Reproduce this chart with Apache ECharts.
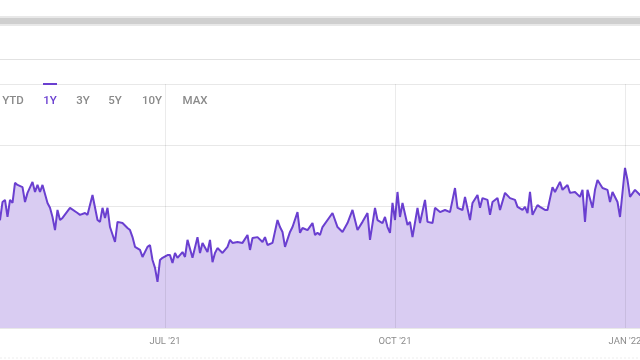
<!DOCTYPE html>
<html>
<head>
<meta charset="utf-8">
<script src="https://cdn.jsdelivr.net/npm/echarts@6/dist/echarts.min.js"></script>
<style>
html,body{margin:0;padding:0;background:#fff;}
#chart{width:640px;height:360px;}
</style>
</head>
<body>
<div id="chart"></div>
<script>
const dates = [
'2021-04-24','2021-04-26','2021-04-27','2021-04-28','2021-04-29','2021-04-30','2021-05-01','2021-05-02','2021-05-03','2021-05-05','2021-05-06',
'2021-05-07','2021-05-09','2021-05-10','2021-05-11','2021-05-12','2021-05-13','2021-05-15','2021-05-16','2021-05-17','2021-05-18',
'2021-05-19','2021-05-20','2021-05-21','2021-05-24','2021-05-27','2021-05-28','2021-05-30','2021-05-31','2021-06-02','2021-06-04',
'2021-06-05','2021-06-06','2021-06-07','2021-06-08','2021-06-09','2021-06-11','2021-06-12','2021-06-14','2021-06-16','2021-06-17',
'2021-06-18','2021-06-19','2021-06-21','2021-06-22','2021-06-24','2021-06-25','2021-06-26','2021-06-27','2021-06-28','2021-06-29',
'2021-06-30','2021-07-02','2021-07-03','2021-07-04','2021-07-05','2021-07-06','2021-07-08','2021-07-09','2021-07-10','2021-07-12',
'2021-07-14','2021-07-15','2021-07-16','2021-07-18','2021-07-19','2021-07-20','2021-07-21','2021-07-22','2021-07-24','2021-07-26',
'2021-07-27','2021-07-28','2021-07-30','2021-08-01','2021-08-03','2021-08-04','2021-08-05','2021-08-07','2021-08-09','2021-08-10',
'2021-08-11','2021-08-13','2021-08-15','2021-08-16','2021-08-17','2021-08-18','2021-08-20','2021-08-21','2021-08-23','2021-08-24',
'2021-08-25','2021-08-27','2021-08-29','2021-08-30','2021-08-31','2021-09-01','2021-09-02','2021-09-06','2021-09-08','2021-09-10',
'2021-09-12','2021-09-14','2021-09-16','2021-09-18','2021-09-20','2021-09-21','2021-09-23','2021-09-24','2021-09-26','2021-09-27',
'2021-09-28','2021-09-29','2021-09-30','2021-10-01','2021-10-02','2021-10-03','2021-10-04','2021-10-06','2021-10-07','2021-10-08',
'2021-10-10','2021-10-11','2021-10-13','2021-10-14','2021-10-16','2021-10-17','2021-10-19','2021-10-21','2021-10-23','2021-10-25',
'2021-10-26','2021-10-28','2021-10-29','2021-10-31','2021-11-01','2021-11-03','2021-11-04','2021-11-05','2021-11-07','2021-11-08',
'2021-11-09','2021-11-11','2021-11-12','2021-11-14','2021-11-16','2021-11-18','2021-11-19','2021-11-21','2021-11-22','2021-11-23',
'2021-11-24','2021-11-25','2021-11-27','2021-11-28','2021-11-30','2021-12-01','2021-12-03','2021-12-04','2021-12-06','2021-12-07',
'2021-12-09','2021-12-10','2021-12-12','2021-12-14','2021-12-15','2021-12-16','2021-12-17','2021-12-19','2021-12-20','2021-12-21',
'2021-12-23','2021-12-25','2021-12-26','2021-12-27','2021-12-29','2021-12-30','2022-01-01','2022-01-02','2022-01-03','2022-01-05',
'2022-01-07','2022-01-09'
];
const prices = [
138.0,135.4,141.3,142.0,136.4,142.0,141.0,147.6,146.9,146.2,141.3,
144.3,147.9,144.6,146.9,144.6,146.9,141.0,139.4,136.4,132.1,
138.7,135.4,136.1,139.4,137.7,137.1,137.7,137.1,143.6,135.4,
134.8,139.4,136.1,139.4,133.1,128.2,134.8,134.4,132.8,132.1,
129.8,126.6,125.6,123.3,126.6,127.2,122.3,119.7,115.1,122.3,
123.0,123.9,123.9,121.3,124.6,123.0,124.9,123.3,128.9,123.0,
129.8,124.6,127.9,124.9,128.9,121.6,124.6,126.2,124.6,126.6,
128.9,127.9,128.2,127.9,130.5,125.6,129.5,129.8,128.2,129.8,
127.2,127.9,135.4,133.1,131.5,126.6,131.5,133.1,138.0,131.2,
132.8,132.1,134.4,130.5,131.2,130.5,133.1,137.7,133.1,131.5,
134.4,138.7,132.1,134.8,137.7,128.9,139.4,135.4,134.4,136.4,
133.1,131.2,141.0,135.4,144.6,136.4,141.0,133.8,134.8,129.8,
139.4,134.4,142.0,134.8,134.4,139.4,138.0,138.7,138.0,145.9,
139.4,138.7,143.0,135.4,141.0,143.6,139.4,142.6,142.0,137.1,
141.3,142.6,138.7,144.3,142.6,142.0,139.7,138.7,139.7,137.7,
144.6,137.1,140.3,139.7,138.7,138.7,146.2,144.6,147.9,145.3,
146.9,144.3,144.6,143.0,145.3,134.8,145.3,139.4,145.3,148.5,
145.9,145.3,141.3,144.6,141.3,136.4,152.5,148.5,143.0,145.3,
143.6,143.0
];
const tickDates = ['2021-07-01','2021-10-01','2022-01-01'];
const tickLabels = ["JUL '21","OCT '21","JAN '22"];
const periodLabels = ['YTD','1Y','3Y','5Y','10Y','MAX'];
const periodCenters = [13,50,83,115,152,195];
const activePeriod = '1Y';

const chart = echarts.init(document.getElementById('chart'), null, {renderer:'canvas'});

const buttonGraphics = periodLabels.map((p,i)=>({
  type:'text', x: periodCenters[i], y: 95, z: 10,
  style:{text:p, fill: p===activePeriod ? '#6a3fd0' : '#8a8a8a', font:'500 11.5px Roboto', textAlign:'center', textVerticalAlign:'top'}
}));

chart.setOption({
  animation:false,
  backgroundColor:'#ffffff',
  grid:{left:0,right:0,top:84,bottom:32,containLabel:false},
  xAxis:{
    type:'time',
    min:'2021-04-26', max:'2022-01-07',
    axisLine:{show:false}, axisTick:{show:false},
    axisLabel:{show:false},
    splitLine:{show:false}
  },
  yAxis:{
    type:'value', min:100, max:180, interval:20,
    axisLabel:{show:false}, axisLine:{show:false}, axisTick:{show:false},
    splitLine:{show:true,lineStyle:{color:'#e8e8e8',width:1}}
  },
  series:[{
    type:'line',
    data: dates.map((d,i)=>[d,prices[i]]),
    symbol:'none',
    lineStyle:{color:'#6a3fd0',width:2},
    itemStyle:{color:'#6a3fd0'},
    areaStyle:{color:'#d9ccf2',opacity:1},
    markLine:{
      silent:true,
      symbol:['none','none'],
      animation:false,
      lineStyle:{color:'rgba(0,0,0,0.08)',type:'solid',width:1},
      label:{position:'start',distance:9,color:'#8c8c8c',fontSize:9.5,fontFamily:'Roboto',
        formatter:function(p){ return tickLabels[p.dataIndex]; }},
      emphasis:{disabled:true},
      data: tickDates.map(d=>({xAxis:d}))
    }
  }],
  graphic:[
    {type:'rect',shape:{x:0,y:16,width:640,height:10},style:{fill:'#e8e8e8'}},
    {type:'rect',shape:{x:0,y:18,width:640,height:6},style:{fill:'#cfcfcf'}},
    {type:'rect',shape:{x:0,y:59,width:640,height:1},style:{fill:'#e2e2e2'}},
    {type:'rect',shape:{x:43,y:83,width:14,height:2},style:{fill:'#6a3fd0'}, z:10},
    {type:'line',shape:{x1:0,y1:358,x2:640,y2:358},style:{stroke:'#eeeeee',lineWidth:1,lineDash:[2,2]}}
  ].concat(buttonGraphics)
});
</script>
</body>
</html>
